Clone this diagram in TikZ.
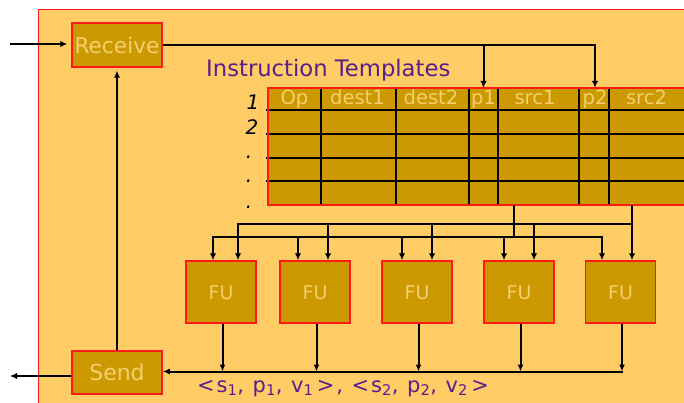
\documentclass[tikz,border=0pt]{standalone}
\usepackage{fontspec}
\setmainfont{DejaVu Sans}
\usetikzlibrary{arrows.meta}
\definecolor{bg}{HTML}{FFCC66}
\definecolor{gold}{HTML}{CC9900}
\definecolor{lt}{HTML}{F2D070}
\definecolor{pur}{HTML}{5A1E8C}
\definecolor{rd}{HTML}{FF1A1A}
\begin{document}
\begin{tikzpicture}[x=1pt,y=-1pt,
  box/.style={draw=rd, line width=1.5pt, fill=gold, text=lt, inner sep=0pt},
  ln/.style={line width=2pt, black},
  arr/.style={ln, -{Latex[length=7pt,width=6.5pt]}},
  thinarr/.style={line width=2pt, black, -{Latex[length=7pt,width=6pt]}},
  grid/.style={line width=1.6pt, black},
  hdr/.style={text=lt, font=\fontsize{19.5}{20}\selectfont, inner sep=0pt,
    minimum height=22pt, text height=14.5pt, text depth=2.5pt},
  rowlab/.style={font=\itshape\fontsize{20}{20}\selectfont, anchor=base, inner sep=0pt},
  purtext/.style={text=pur, inner sep=0pt},
]
\useasboundingbox (0,0) rectangle (684,403);
\fill[white] (0,0) rectangle (684,403);
\draw[fill=bg, draw=rd, line width=1pt] (38,10) rectangle (700,420);

% table
\fill[gold] (268,88) rectangle (700,205);
\foreach \y in {110,134,158,181} \draw[grid] (266,\y) -- (700,\y);
\foreach \x in {321,396,469,498,579,609} \draw[grid] (\x,88) -- (\x,205);
\draw[rd, line width=1.5pt] (700,88) -- (268,88) -- (268,205) -- (700,205);

\node[hdr, minimum width=53pt] (op) at (294.5,99) {Op};
\node[hdr, minimum width=75pt] (d1) at (357.5,99) {dest1};
\node[hdr, minimum width=73pt] (d2) at (431,99) {dest2};
\node[hdr, minimum width=29pt] (p1) at (483.5,99) {p1};
\node[hdr, minimum width=81pt] (s1h) at (535,99) {src1};
\node[hdr, minimum width=30pt] (p2) at (595,99) {p2};
\node[hdr, minimum width=75pt] (s2h) at (646.5,99) {src2};

\node[rowlab] (r1) at (253,110) {1};
\node[rowlab] (r2) at (252,135) {2};
\node[rowlab] (r3) at (249,159) {.};
\node[rowlab] (r4) at (249,183) {.};
\node[rowlab] (r5) at (249,208) {.};

\node[purtext, anchor=base west, font=\fontsize{22.7}{24}\selectfont] (title) at (206,77) {Instruction Templates};

% receive / send
\node[box, minimum width=90pt, minimum height=44pt, font=\fontsize{21.7}{22}\selectfont] (recv) at (117,45) {Receive};
\node[box, minimum width=90pt, minimum height=43pt, font=\fontsize{22}{22}\selectfont] (send) at (117,372.5) {Send};

% FUs
\foreach \i/\x in {1/221,2/315,3/417,4/519,5/620.5}
  \node[box, minimum width=70pt, minimum height=62pt, font=\fontsize{19}{20}\selectfont, text depth=0pt] (fu\i) at (\x,292) {\raisebox{-2pt}{FU}};

% input / output
\coordinate (inL) at (10,44);
\coordinate (outL) at (10,376);
\draw[arr, shorten >=4pt] (inL) -- (recv.west |- inL);
\draw[arr] (send.west |- outL) -- (outL);
\draw[arr, shorten >=3pt] (send.north) -- (recv.south);

% receive to templates
\draw[arr] (recv.east) -| (p2.north);
\draw[arr] (recv.east -| p1.north) -- (p1.north);

% table to FUs
\coordinate (s1) at (514,205);
\coordinate (s2) at (632,205);
\coordinate (lb) at (0,237);
\coordinate (ub) at (0,224);
\foreach \n/\l/\u in {1/213/238,2/298/328,3/402/432,4/504/534} {
  \coordinate (L\n) at (\l,237);
  \coordinate (U\n) at (\u,224);
  \draw[arr] (L\n) -- (L\n |- fu\n.north);
  \draw[arr] (U\n) -- (U\n |- fu\n.north);
}
\coordinate (L5) at (602,237);
\draw[arr] (L5) -- (L5 |- fu5.north);
\draw[arr] (s2) -- (s2 |- fu5.north);
\draw[ln] (s1) -- (s1 |- lb);
\draw[ln] ([xshift=-1pt]L1) -- ([xshift=1pt]L5);
\draw[ln] ([xshift=-1pt]U1) -- ([xshift=1pt]s2 |- ub);

% FU outputs
\coordinate (bus) at (0,371.5);
\foreach \i in {1,...,5}
  \draw[thinarr] ([xshift=1.5pt]fu\i.south) -- ([xshift=1.5pt]fu\i.south |- bus);
\draw[thinarr] ([xshift=2.5pt]fu5.south |- bus) -- (send.east |- bus);

\node[purtext, anchor=base west, font=\fontsize{21}{22}\selectfont\addfontfeatures{LetterSpace=9}] (lbl) at (197,392)
  {<s\textsubscript{1}, p\textsubscript{1}, v\textsubscript{1}\,>, <s\textsubscript{2}, p\textsubscript{2}, v\textsubscript{2}\,>};
\end{tikzpicture}
\end{document}
